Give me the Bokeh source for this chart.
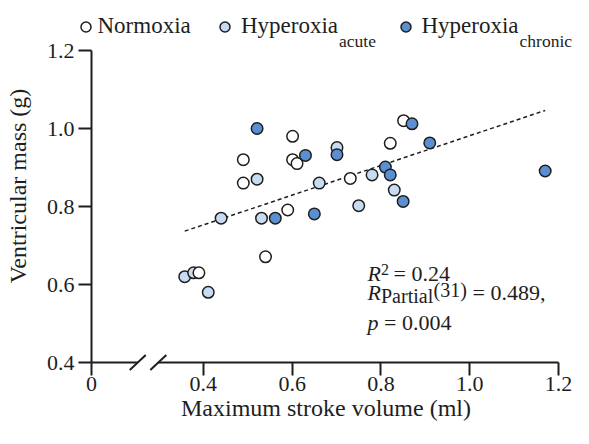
from bokeh.plotting import figure
from bokeh.models import (Range1d, FixedTicker, CustomJSTickFormatter, PrintfTickFormatter,
                          Label, Legend, LegendItem)
from bokeh.embed import file_html
from bokeh.resources import INLINE

# ---- data ----
norm_x = [0.601, 0.490, 0.601, 0.611, 0.490, 0.731, 0.590, 0.540, 0.390, 0.851, 0.821]
norm_y = [0.980, 0.920, 0.920, 0.910, 0.860, 0.872, 0.791, 0.671, 0.630, 1.020, 0.962]

acute_x = [0.701, 0.521, 0.661, 0.440, 0.531, 0.358, 0.378, 0.411, 0.780, 0.830, 0.750]
acute_y = [0.951, 0.870, 0.860, 0.770, 0.770, 0.620, 0.630, 0.580, 0.881, 0.842, 0.802]

chron_x = [0.521, 0.630, 0.701, 0.562, 0.650, 0.870, 0.910, 1.170, 0.810, 0.821, 0.850]
chron_y = [1.000, 0.931, 0.933, 0.770, 0.781, 1.012, 0.963, 0.891, 0.901, 0.881, 0.813]

fit_intercept = 0.6005
fit_slope = 0.381

X_ZERO = 0.148          # axis position that carries the "0" label (broken axis)
x_ticks = [X_ZERO, 0.4, 0.6, 0.8, 1.0, 1.2]
y_ticks = [0.4, 0.6, 0.8, 1.0, 1.2]
break_centers = [0.2522, 0.2985]
legend_labels = ["Normoxia", "Hyperoxia", "Hyperoxia"]
legend_subs = ["", "acute", "chronic"]

FONT = "Liberation Serif"
INK = "#1e1e1e"
ACUTE = "#c8dcf1"
CHRON = "#5a8fd1"

W, H = 573, 428

# layout geometry (pixels)
TICK = 13               # tick length
AXIS_X = 91             # where the y axis line is drawn
FRAME_L = AXIS_X - TICK # frame starts at the outer end of the y ticks
Y_TOP_PX = 50           # pixel row of y = 1.2
BELOW = 9               # frame extends 9 px under y = 0.4
PX_X = 443.9            # px per x unit
PX_Y = 390.0            # px per y unit
X_END_PX = 558          # pixel column of x = 1.2

x_start = X_ZERO - TICK / PX_X
x_end = 1.2 + (W - X_END_PX) / PX_X
y_start = 0.4 - BELOW / PX_Y
y_end = 1.2 + Y_TOP_PX / PX_Y
frame_bottom = Y_TOP_PX + 0.8 * PX_Y + BELOW

p = figure(width=W, height=H, output_backend="svg", toolbar_location=None,
           x_range=Range1d(x_start, x_end), y_range=Range1d(y_start, y_end),
           min_border_left=FRAME_L, min_border_right=0, min_border_top=0,
           min_border_bottom=int(round(H - frame_bottom)))
p.grid.visible = False
p.outline_line_color = None
p.background_fill_color = "white"
p.border_fill_color = "white"

for ax in (p.xaxis[0], p.yaxis[0]):
    ax.axis_line_color = None
    ax.major_tick_line_width = 2
    ax.major_tick_line_color = INK
    ax.minor_tick_line_color = None
    ax.minor_tick_in = 0
    ax.minor_tick_out = 0
    ax.major_label_text_font = FONT
    ax.major_label_text_font_size = "22px"
    ax.major_label_text_color = INK
    ax.axis_label_text_font = FONT
    ax.axis_label_text_font_size = "24px"
    ax.axis_label_text_font_style = "normal"
    ax.axis_label_text_color = INK

p.xaxis.ticker = FixedTicker(ticks=x_ticks)
p.xaxis.formatter = CustomJSTickFormatter(code="return tick < 0.3 ? '0' : tick.toFixed(1);")
p.xaxis.axis_label = "Maximum stroke volume (ml)"
p.xaxis.bounds = (X_ZERO, 1.2)
p.xaxis.major_tick_in = BELOW
p.xaxis.major_tick_out = TICK - BELOW
p.xaxis.major_label_standoff = 1
p.xaxis.axis_label_standoff = 1

p.yaxis.ticker = FixedTicker(ticks=y_ticks)
p.yaxis.formatter = PrintfTickFormatter(format="%.1f")
p.yaxis.axis_label = "Ventricular mass (g)"
p.yaxis.bounds = (0.4, 1.2)
p.yaxis.major_tick_in = TICK
p.yaxis.major_tick_out = 0
p.yaxis.major_label_standoff = 4
p.yaxis.axis_label_standoff = 13

# axis lines: y axis, and x axis with a break
p.segment(x0=[X_ZERO], y0=[0.4], x1=[X_ZERO], y1=[1.2], line_width=2, line_color=INK)
p.segment(x0=[X_ZERO, break_centers[1]], y0=[0.4, 0.4],
          x1=[break_centers[0], 1.2], y1=[0.4, 0.4],
          line_width=2, line_color=INK)
dx, dy = 8 / PX_X, 7.5 / PX_Y
p.segment(x0=[b - dx for b in break_centers], y0=[0.4 - dy] * 2,
          x1=[b + dx for b in break_centers], y1=[0.4 + dy] * 2,
          line_width=2, line_color=INK)

# regression line
all_x = norm_x + acute_x + chron_x
fx = [min(all_x), max(all_x)]
fy = [fit_intercept + fit_slope * v for v in fx]
p.line(fx, fy, line_dash="4 3", line_width=1.5, line_color=INK)

common = dict(size=11.5, line_color=INK, line_width=1.5)
r_acute = p.scatter(acute_x, acute_y, fill_color=ACUTE, **common)
r_norm = p.scatter(norm_x, norm_y, fill_color="white", **common)
r_chron = p.scatter(chron_x, chron_y, fill_color=CHRON, **common)


def txt(s, x, y, size, style="normal"):
    """x, y in pixels relative to the frame's bottom-left corner."""
    p.add_layout(Label(x=x, y=y, x_units="screen", y_units="screen", text=s,
                       text_font=FONT, text_font_size=f"{size}px",
                       text_font_style=style, text_color=INK,
                       text_baseline="alphabetic"))


# statistics annotation
x0 = 367 - FRAME_L
txt("R", x0, 98, 22, "italic")
txt("2", x0 + 13.5, 102, 16)
txt("= 0.24", x0 + 26, 98, 22)
txt("R", x0, 79.5, 22, "italic")
txt("Partial", x0 + 13.5, 75.5, 20)
txt("(31)", x0 + 66, 81.5, 20)
txt("= 0.489,", x0 + 105, 79.5, 22)
txt("p", x0, 49.5, 22, "italic")
txt("= 0.004", x0 + 16.5, 49.5, 22)

# legend: three single-item legends, subscripts added as labels
LEG_FONT = 23
SUB_FONT = 17.5
hyper_w = 4.221 * LEG_FONT
glyph_centers = [85, 224.5, 405]
standoffs = [0, 4, 4]
renderers = [r_norm, r_acute, r_chron]
leg_bottom = frame_bottom - 39.5
for label, sub, r, cx, so in zip(legend_labels, legend_subs, renderers,
                                  glyph_centers, standoffs):
    lg = Legend(items=[LegendItem(label=label, renderers=[r])],
                location=(cx - 12.5 - FRAME_L, leg_bottom), padding=0, margin=0,
                spacing=0, border_line_color=None, background_fill_alpha=0,
                glyph_width=25, glyph_height=27, label_standoff=so,
                label_text_font=FONT, label_text_font_size=f"{LEG_FONT}px",
                label_text_color=INK)
    p.add_layout(lg)
    if sub:
        txt(sub, cx + 12.5 + so + hyper_w + 0.5 - FRAME_L, frame_bottom - 40, SUB_FONT)

open("out.html", "w").write(file_html(p, INLINE))
